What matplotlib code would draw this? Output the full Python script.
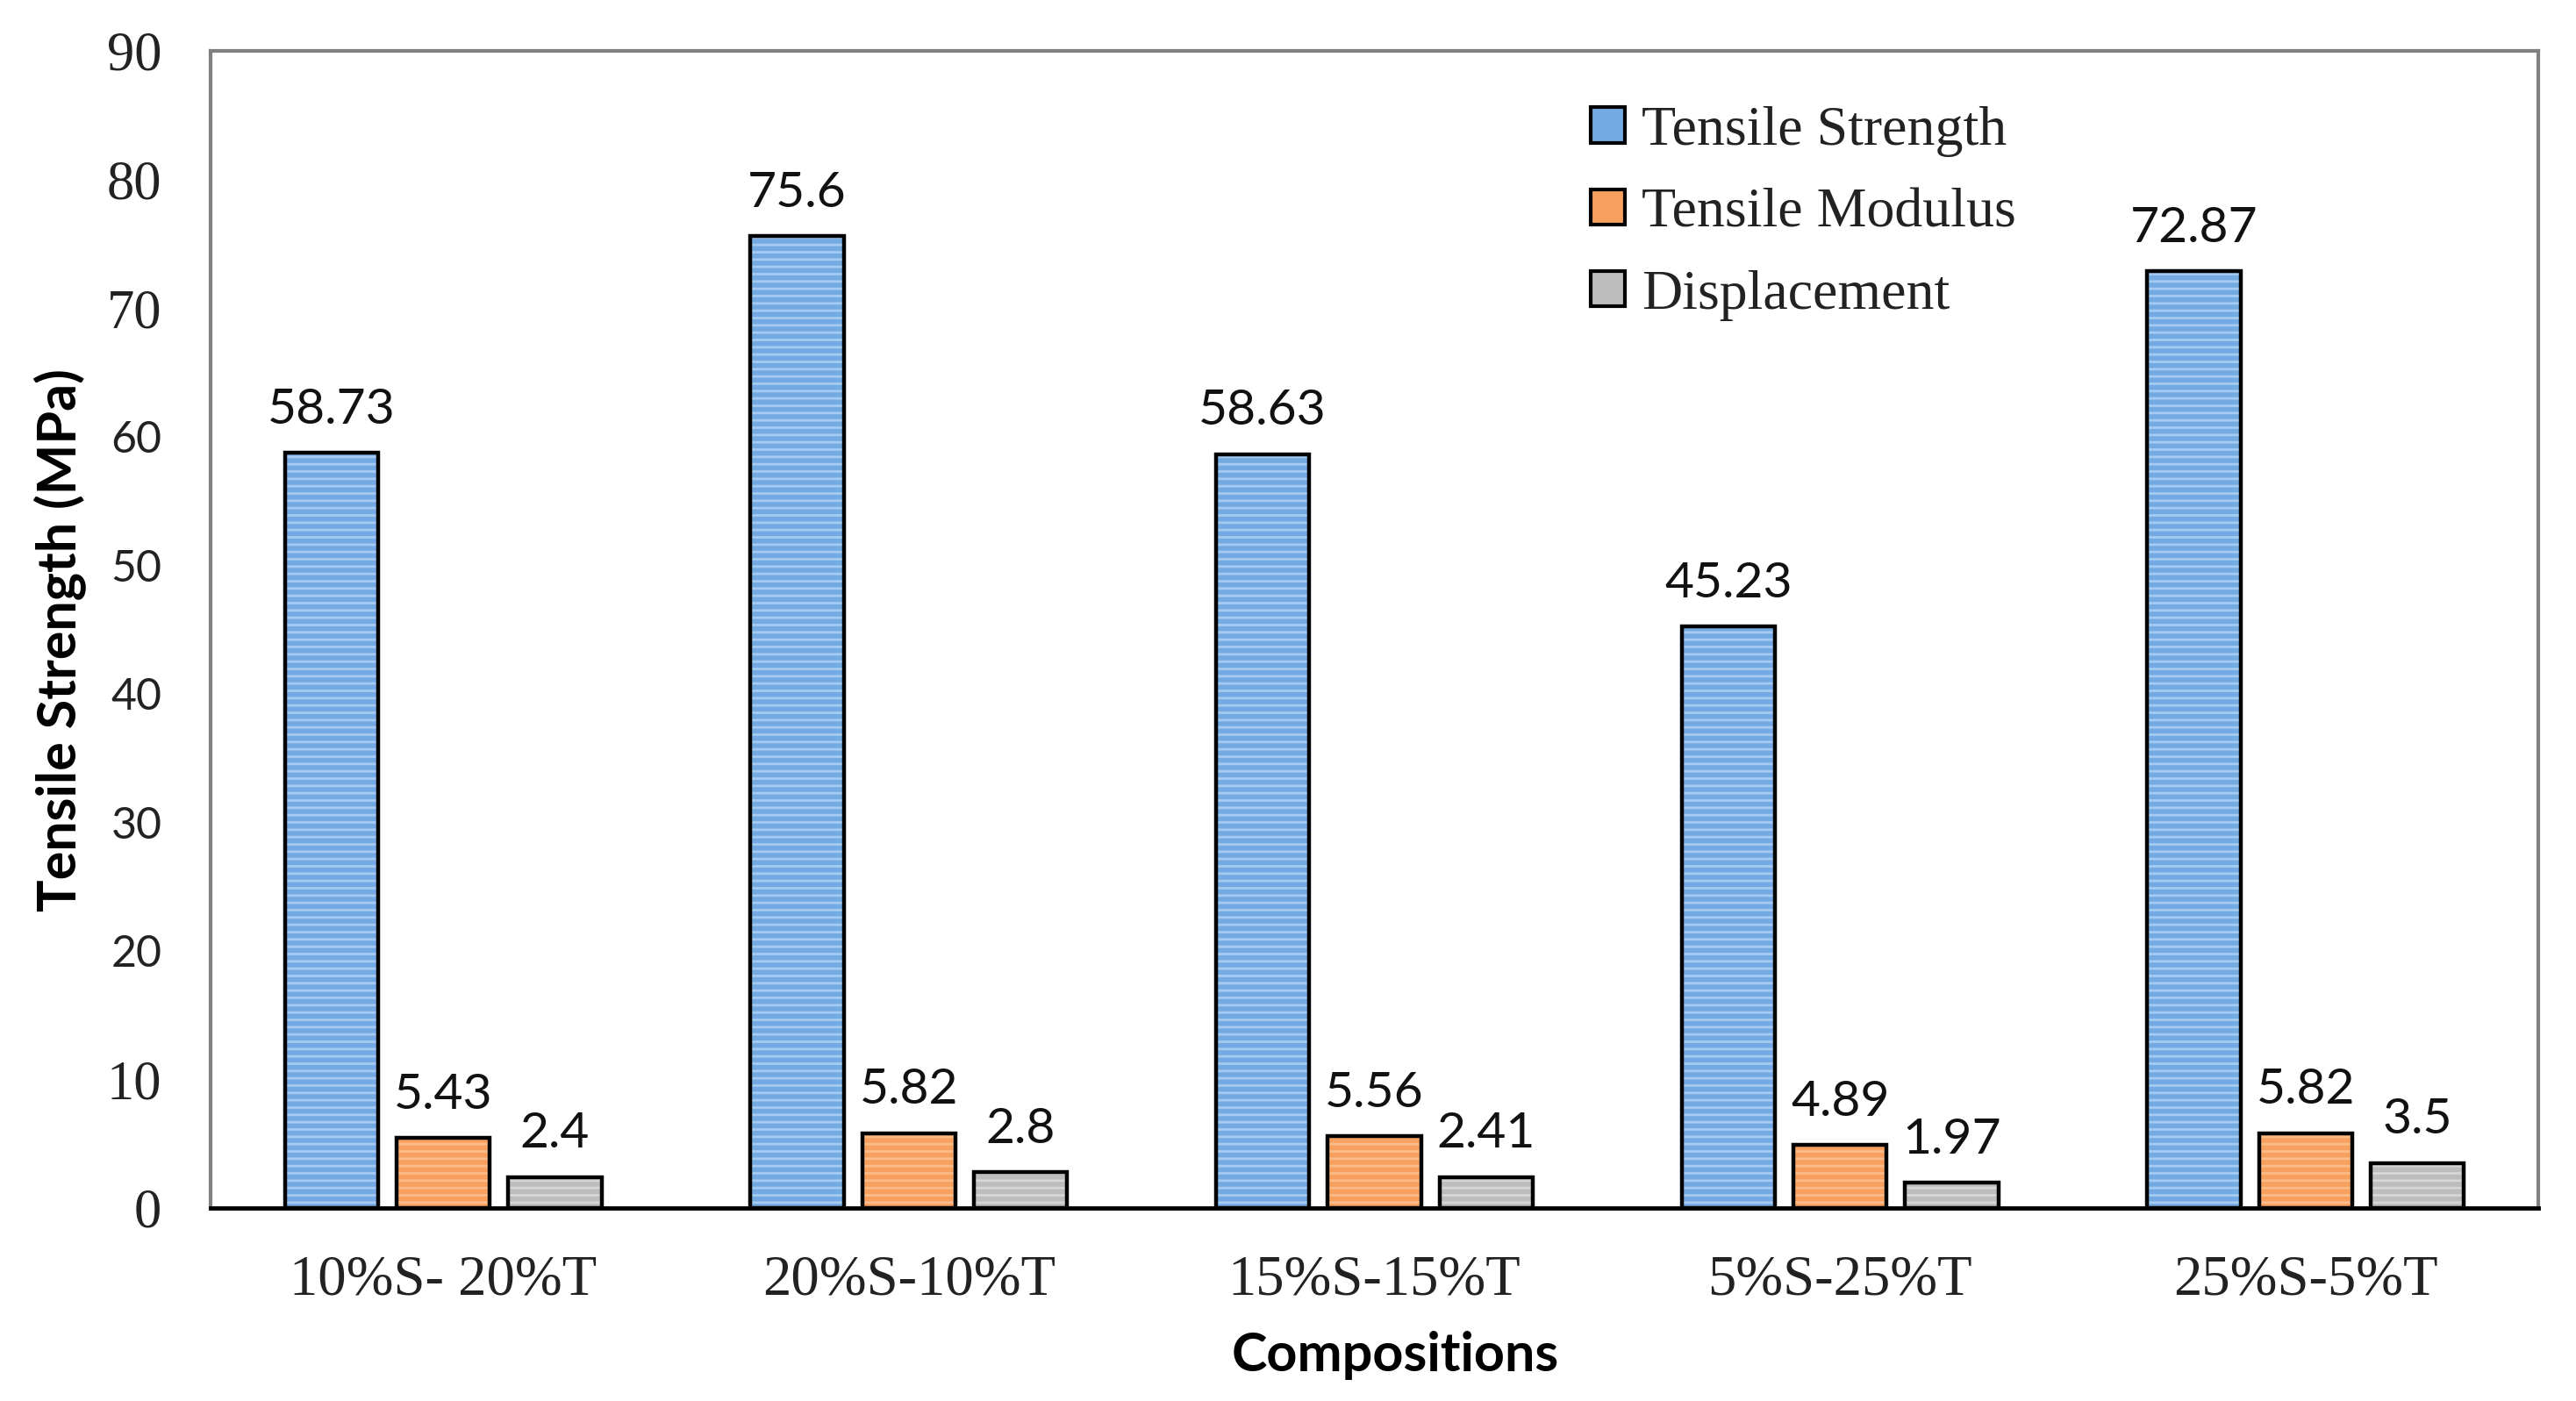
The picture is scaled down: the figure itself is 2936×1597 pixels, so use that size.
import matplotlib
matplotlib.use("Agg")
import matplotlib.pyplot as plt
from matplotlib.patches import Patch
import numpy as np

categories = ["10%S- 20%T", "20%S-10%T", "15%S-15%T", "5%S-25%T", "25%S-5%T"]
tensile_strength = [58.73, 75.6, 58.63, 45.23, 72.87]
tensile_modulus = [5.43, 5.82, 5.56, 4.89, 5.82]
displacement = [2.4, 2.8, 2.41, 1.97, 3.5]
series_names = ["Tensile Strength", "Tensile Modulus", "Displacement"]
yticks = [0, 10, 20, 30, 40, 50, 60, 70, 80, 90]

face_colors = ["#74AAE2", "#F7A05F", "#BDBDBD"]
stripe_colors = ["#A6CBF2", "#FBBC89", "#D6D6D6"]

plt.rcParams['hatch.linewidth'] = 2.0

fig = plt.figure(figsize=(29.36, 15.97), dpi=100)
ax = fig.add_axes([0.0817, 0.1378, 0.9854 - 0.0817, 0.9637 - 0.1378])

x = np.arange(len(categories))
width = 0.2
step = 0.24
data = [tensile_strength, tensile_modulus, displacement]
for i, vals in enumerate(data):
    pos = x + (i - 1) * step
    ax.bar(pos, vals, width, color=face_colors[i], hatch='--',
           edgecolor=stripe_colors[i], linewidth=0, zorder=2)
    ax.bar(pos, vals, width, fill=False, edgecolor='black', linewidth=3.2, zorder=3)
    for p, v in zip(pos, vals):
        ax.annotate(f"{v:g}", (p, v), xytext=(0, 24), textcoords='offset points',
                    ha='center', va='baseline', fontsize=41, family='Lato', color='#111111')

ax.set_xlim(-0.5, len(categories) - 0.5)
ax.set_ylim(0, 90)
ax.set_yticks(yticks)
ax.set_xticks(x)
ax.set_xticklabels(categories, family='Liberation Serif', fontsize=46.5, color='#222222')
ax.tick_params(axis='both', length=0)
ax.tick_params(axis='y', pad=40)
ax.tick_params(axis='x', pad=38)

sans_ticks = {20, 30, 40, 50, 60}
for lab, v in zip(ax.get_yticklabels(), yticks):
    lab.set_color('#222222')
    if v in sans_ticks:
        lab.set_family('Lato')
        lab.set_fontsize(36)
    else:
        lab.set_family('Liberation Serif')
        lab.set_fontsize(45)

for s in ['left', 'top', 'right']:
    ax.spines[s].set_color('#808080')
    ax.spines[s].set_linewidth(3.0)
ax.spines['bottom'].set_color('black')
ax.spines['bottom'].set_linewidth(3.5)
ax.spines['bottom'].set_zorder(4)

ax.set_xlabel("Compositions", family='Lato', fontweight='bold', fontsize=44)
ax.set_ylabel("Tensile Strength (MPa)", family='Lato', fontweight='bold', fontsize=44)
ax.xaxis.set_label_coords(0.509, -0.106)
ax.yaxis.set_label_coords(-0.053, 0.491)

handles = [Patch(facecolor=face_colors[i], edgecolor='black', linewidth=3.0)
           for i in range(3)]
leg = ax.legend(handles, series_names, loc='upper left', bbox_to_anchor=(0.593, 0.952),
                frameon=False, prop={'family': 'Liberation Serif', 'size': 46},
                handlelength=0.6, handleheight=0.6, handletextpad=0.3,
                labelspacing=0.55, borderpad=0.0, borderaxespad=0.0)
for t in leg.get_texts():
    t.set_color('#222222')

fig.savefig("out.png", dpi=100, facecolor='white')
